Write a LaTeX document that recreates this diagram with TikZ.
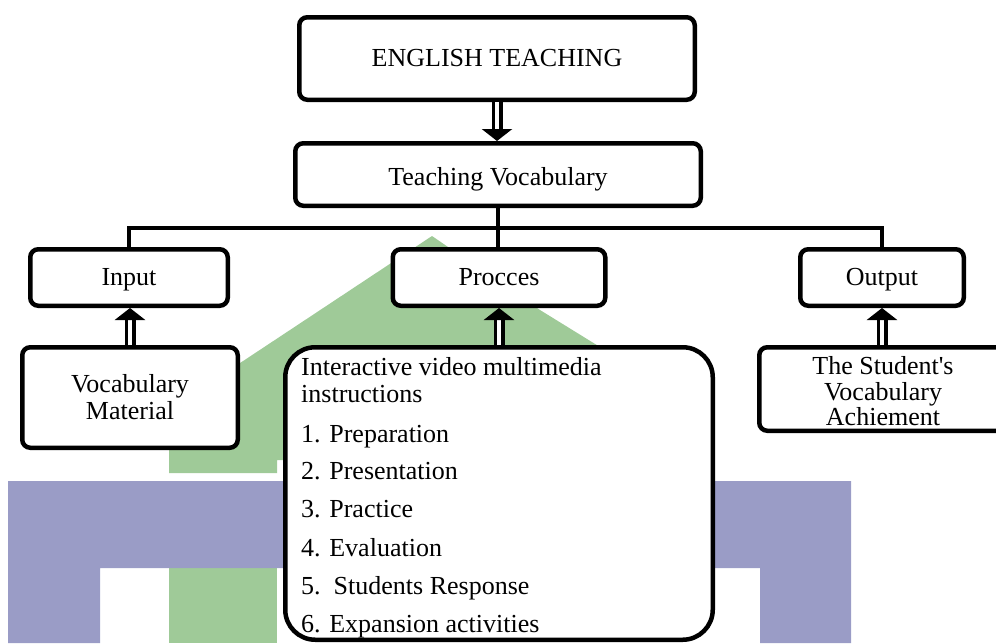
\documentclass[tikz,border=0pt]{standalone}
\usepackage{fontspec}
\setmainfont{Liberation Serif}
\usetikzlibrary{arrows.meta}
\definecolor{wmgreen}{HTML}{9FCA98}
\definecolor{wmpurple}{HTML}{9A9CC6}
\begin{document}
\begin{tikzpicture}[x=1pt,y=-1pt,
  box/.style={draw, line width=4.5pt, rounded corners=8pt, fill=white, inner sep=0pt,
    align=center, font=\fontsize{26}{27}\selectfont},
  rowbox/.style={box, minimum height=56.5pt, text height=15pt, text depth=0pt},
  bigbox/.style={box, rounded corners=30pt},
  conn/.style={line width=4pt},
  dblarrow/.style={line width=3.5pt, double=white, double distance=4pt,
    -{Triangle[width=30pt,length=12pt]}},
  linetxt/.style={anchor=base, inner sep=0pt, font=\fontsize{26}{27}\selectfont},
  listtxt/.style={anchor=base west, inner sep=0pt, font=\fontsize{26}{27}\selectfont}]
\useasboundingbox (0,0) rectangle (996,643);

% watermark
\fill[wmgreen] (169,473) -- (169,410) -- (290,330) -- (432,236) -- (540,310) -- (600,347)
  -- (600,460) -- (277,460) -- (277,473) -- cycle;
\fill[wmgreen] (169,568) rectangle (277,643);
\fill[wmpurple] (8,481) -- (851,481) -- (851,643) -- (760,643) -- (760,568) -- (100,568)
  -- (100,643) -- (8,643) -- cycle;

% nodes
\node[box, minimum width=395.5pt, minimum height=82.5pt] (eng) at (497,58.5) {ENGLISH TEACHING};
\node[box, minimum width=405.5pt, minimum height=62.5pt, text height=21pt, text depth=0pt] (tv) at (498,174.5) {Teaching Vocabulary};
\node[rowbox, minimum width=197.5pt] (inp) at (129,277.5) {Input};
\node[rowbox, minimum width=212.5pt] (proc) at (499,277.5) {Procces};
\node[rowbox, minimum width=163.5pt] (out) at (882,277.5) {Output};
\node[box, minimum width=215.5pt, minimum height=100.5pt] (vm) at (130,397.5) {};
\node[linetxt] (vm1) at (130,392) {Vocabulary};
\node[linetxt] (vm2) at (130,419) {Material};
\node[bigbox, minimum width=427.5pt, minimum height=292.5pt] (ivm) at (499,493.5) {};
\node[box, minimum width=247.5pt, minimum height=83.5pt] (stu) at (883,389) {};
\node[linetxt] (stu1) at (883,374) {The Student\textquotesingle s};
\node[linetxt] (stu2) at (883,400) {Vocabulary};
\node[linetxt] (stu3) at (883,425) {Achiement};

% list text
\node[listtxt] (l0) at (301,375) {Interactive video multimedia};
\node[listtxt] (l0b) at (301,402) {instructions};
\node[listtxt] (l1) at (301,442) {1. Preparation};
\node[listtxt] (l2) at (301,479) {2. Presentation};
\node[listtxt] (l3) at (301,517) {3. Practice};
\node[listtxt] (l4) at (301,556) {4. Evaluation};
\node[listtxt] (l5) at (301,594) {5.\ \ Students Response};
\node[listtxt] (l6) at (301,632) {6. Expansion activities};

% connectors
\coordinate (bus) at (0,228);
\draw[conn] (tv.south) -- (tv.south |- proc.north);
\draw[conn] (inp.north) -- (inp.north |- bus) -- (out.north |- bus) -- (out.north);

\draw[dblarrow] (eng.south) -- (eng.south |- tv.north);
\draw[dblarrow] (vm.north) -- (vm.north |- inp.south);
\draw[dblarrow] (ivm.north) -- (proc.south);
\draw[dblarrow] (out.south |- stu.north) -- (out.south);
\end{tikzpicture}
\end{document}
